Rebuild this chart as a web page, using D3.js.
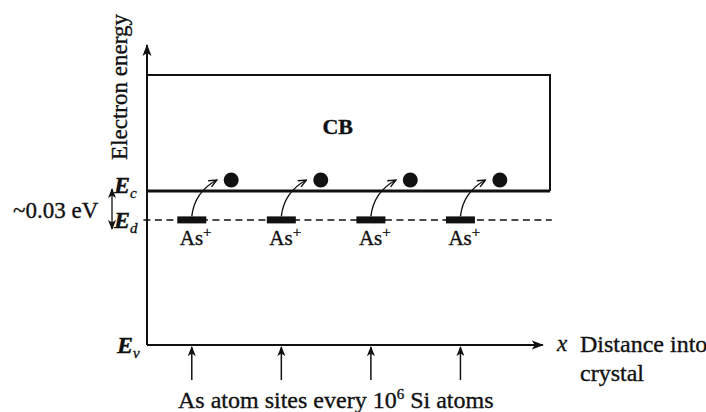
<!DOCTYPE html>
<html>
<head>
<meta charset="utf-8">
<script src="https://cdn.jsdelivr.net/npm/d3@7/dist/d3.min.js"></script>
<style>
  html, body { margin: 0; padding: 0; background: #fff; }
  svg { display: block; }
  text { font-family: "Liberation Serif", "DejaVu Serif", serif; fill: #111; stroke: #111; stroke-width: 0.35px; }
</style>
</head>
<body>
<svg id="chart" width="706" height="412"></svg>
<script>
// Schematic band diagram of n-type Si doped with As donors.
// Energies are in schematic units (not to scale), distance in site spacings.
const levelKeys   = ["Ev", "Ed", "Ec", "CBtop"];
const levelValues = [0, 4.17, 5.13, 9.0];
const levelSubs   = ["v", "d", "c"];          // subscripts for E_v, E_d, E_c
const siteX       = [0.5, 1.5, 2.5, 3.5];     // As donor sites along x
const electronDx  = 0.44;                      // freed electron offset from its site
const electronE   = 5.5;                       // electron energy, just above Ec
const donorLabel  = "As";
const bandLabel   = "CB";
const gapLabel    = "~0.03 eV";
const yTitle      = "Electron energy";
const xTitle      = ["Distance into", "crystal"];
const siteCaption = ["As atom sites every 10", "6", " Si atoms"];

const L = Object.fromEntries(levelKeys.map((k, i) => [k, levelValues[i]]));

const svg = d3.select("#chart");
const x = d3.scaleLinear().domain([0, 4.5]).range([147, 550]);
const y = d3.scaleLinear().domain([0, 10]).range([345, 45]);

const defs = svg.append("defs");
defs.append("marker").attr("id", "solidHead")
  .attr("viewBox", "0 -5 12 10").attr("refX", 11).attr("refY", 0)
  .attr("markerUnits", "userSpaceOnUse").attr("markerWidth", 12).attr("markerHeight", 10)
  .attr("orient", "auto")
  .append("path").attr("d", "M0,-4.5L12,0L0,4.5L3,0Z").attr("fill", "#111");
defs.append("marker").attr("id", "smallHead")
  .attr("viewBox", "0 -4 10 8").attr("refX", 9).attr("refY", 0)
  .attr("markerUnits", "userSpaceOnUse").attr("markerWidth", 10).attr("markerHeight", 8)
  .attr("orient", "auto")
  .append("path").attr("d", "M0,-4L10,0L0,4L2.5,0Z").attr("fill", "#111");
defs.append("marker").attr("id", "openHead")
  .attr("viewBox", "0 -5 10 10").attr("refX", 9).attr("refY", 0)
  .attr("markerUnits", "userSpaceOnUse").attr("markerWidth", 10).attr("markerHeight", 10)
  .attr("orient", "auto")
  .append("path").attr("d", "M1,-3.5L9,0L1,3.5").attr("fill", "none")
  .attr("stroke", "#111").attr("stroke-width", 1.4);

// Energy axis (vertical) and distance axis (horizontal)
svg.append("line")
  .attr("x1", x(0)).attr("y1", y(L.Ev)).attr("x2", x(0)).attr("y2", y(10))
  .attr("stroke", "#111").attr("stroke-width", 2).attr("marker-end", "url(#solidHead)");
svg.append("line")
  .attr("x1", x(0)).attr("y1", y(L.Ev)).attr("x2", x(4.42)).attr("y2", y(L.Ev))
  .attr("stroke", "#111").attr("stroke-width", 2).attr("marker-end", "url(#solidHead)");

// Conduction band box
svg.append("path")
  .attr("d", `M${x(0)},${y(L.CBtop)}H${x(4.5)}V${y(L.Ec)}`)
  .attr("fill", "none").attr("stroke", "#111").attr("stroke-width", 2);
svg.append("line")
  .attr("x1", x(0)).attr("y1", y(L.Ec)).attr("x2", x(4.5)).attr("y2", y(L.Ec))
  .attr("stroke", "#111").attr("stroke-width", 3);
svg.append("text").attr("x", x(2.13)).attr("y", y(7.05))
  .attr("text-anchor", "middle").attr("font-weight", "bold").attr("font-size", 22)
  .text(bandLabel);

// Donor level Ed
svg.append("line")
  .attr("x1", x(-0.04)).attr("y1", y(L.Ed)).attr("x2", x(4.52)).attr("y2", y(L.Ed))
  .attr("stroke", "#111").attr("stroke-width", 1.5).attr("stroke-dasharray", "7,4.5");

// Donor sites: bar on Ed, label, emission arrow and freed electron
const sites = svg.append("g").selectAll("g").data(siteX).join("g");
sites.append("rect")
  .attr("x", d => x(d) - 14.5).attr("y", y(L.Ed) - 3.5)
  .attr("width", 29).attr("height", 7).attr("fill", "#111");
const lbl = sites.append("text")
  .attr("x", d => x(d) - 12).attr("y", y(L.Ed) + 25)
  .attr("font-size", 21);
lbl.append("tspan").text(donorLabel);
lbl.append("tspan").attr("dy", -8).attr("font-size", 15).text("+");
sites.append("path")
  .attr("d", d => {
    const p = d3.path();
    p.moveTo(x(d), y(L.Ed) - 3.5);
    p.quadraticCurveTo(x(d + 0.03), y(5.1), x(d + 0.28), y(electronE));
    return p.toString();
  })
  .attr("fill", "none").attr("stroke", "#111").attr("stroke-width", 1.4)
  .attr("marker-end", "url(#openHead)");
sites.append("circle")
  .attr("cx", d => x(d + electronDx)).attr("cy", y(electronE)).attr("r", 7.5)
  .attr("fill", "#111");

// Arrows marking As atom sites below the x axis
sites.append("line")
  .attr("x1", d => x(d)).attr("y1", y(-1.17)).attr("x2", d => x(d)).attr("y2", y(-0.07))
  .attr("stroke", "#111").attr("stroke-width", 1.5).attr("marker-end", "url(#smallHead)");

// Level labels E_c, E_d, E_v
const levelLabelPos = [
  { e: L.Ev, sub: levelSubs[0], x: 117, dy: 8 },
  { e: L.Ed, sub: levelSubs[1], x: 114, dy: 8 },
  { e: L.Ec, sub: levelSubs[2], x: 114, dy: 2 }
];
levelLabelPos.forEach(o => {
  const t = svg.append("text").attr("x", o.x).attr("y", y(o.e) + o.dy)
    .attr("font-size", 24).attr("font-style", "italic").attr("font-weight", "bold");
  t.append("tspan").text("E");
  t.append("tspan").attr("dy", 5).attr("font-size", 15).attr("font-weight", "normal").text(o.sub);
});

// Gap between Ec and Ed
svg.append("line")
  .attr("x1", 112).attr("y1", 206).attr("x2", 112).attr("y2", 189)
  .attr("stroke", "#111").attr("stroke-width", 1.3).attr("marker-end", "url(#smallHead)");
svg.append("line")
  .attr("x1", 112).attr("y1", 206).attr("x2", 112).attr("y2", 229)
  .attr("stroke", "#111").attr("stroke-width", 1.3).attr("marker-end", "url(#smallHead)");
svg.append("text").attr("x", 13).attr("y", 218).attr("font-size", 23).text(gapLabel);

// Axis titles
svg.append("text")
  .attr("transform", `translate(127,${87}) rotate(-90)`)
  .attr("text-anchor", "middle").attr("font-size", 23).text(yTitle);

svg.append("text").attr("x", 557).attr("y", 351)
  .attr("font-size", 23).attr("font-style", "italic").text("x");
svg.append("text").attr("x", 580).attr("y", 352).attr("font-size", 24).text(xTitle[0]);
svg.append("text").attr("x", 580).attr("y", 381).attr("font-size", 24).text(xTitle[1]);

const cap = svg.append("text").attr("x", 178).attr("y", 408).attr("font-size", 24);
cap.append("tspan").text(siteCaption[0]);
cap.append("tspan").attr("dy", -9).attr("font-size", 15).text(siteCaption[1]);
cap.append("tspan").attr("dy", 9).text(siteCaption[2]);
</script>
</body>
</html>
